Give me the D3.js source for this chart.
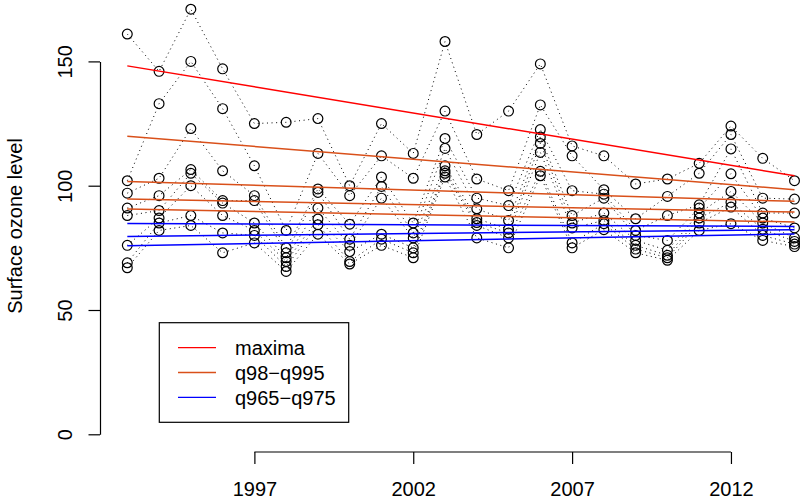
<!DOCTYPE html>
<html>
<head>
<meta charset="utf-8">
<title>Surface ozone level</title>
<script src="https://cdnjs.cloudflare.com/ajax/libs/d3/7.8.5/d3.min.js"></script>
<style>
  body { margin:0; background:#fff; }
  svg { display:block; font-family:"Liberation Sans", Arial, Helvetica, sans-serif; }
</style>
</head>
<body>
<svg width="800" height="504"></svg>
<script>
// one value per year for each quantile series
var years = [1993,1994,1995,1996,1997,1998,1999,2000,2001,2002,2003,
             2004,2005,2006,2007,2008,2009,2010,2011,2012,2013,2014];

var maxima = [161,146,171,147,125,125.5,127,100,125,113,158,120.6,130,149,116,112,100.7,102.7,109,124,111,102];
var q995   = [102,133,150,131,108,82,113,96,112,103,130,102.7,98,132.5,112,98.4,86.7,95.7,105,120.6,95,94.6];
var q99    = [97,103,123,106,96,75,98.7,84.5,103.5,85,119,95,92,122.6,98,96.6,82,88,92.3,114.8,89,89];
var q985   = [91,96,106.5,94,94,73,97.3,78.5,99.7,81,115,90.7,86,119.6,88,95,80,78,91,104.8,87,83];
var q98    = [88,90,105,93,85,71,91,76,95,79,108,86.7,82.5,117,85,89,78,74,89,97.7,85,79];
var q975   = [76,87,100,88,82,69.5,86.6,73.5,80.5,75,106,85.2,81,113.4,83,86,76,72,87,93.3,82.5,77.6];
var q97    = [69,85,88,81,80,67.5,84.3,69.5,78.5,73,105,84,79,105.8,77,84.7,74.5,71,85,91.4,80,76.5];
var q965   = [67,82,84,73,77,65.5,80.5,68.5,76,71,103.5,79,75,104,75,82.3,73,70,82,84.7,78,75.5];

var series = [maxima, q995, q99, q985, q98, q975, q97, q965];
var seriesGroup = [0, 1, 1, 1, 1, 2, 2, 2];

// fitted trend value at first and last year, same order as series
var trendStart = [148.2, 119.9, 101.7, 94.6, 90.6, 84.8, 79.6, 75.8];
var trendEnd   = [104.0, 98.4, 93.7, 89.4, 85.4, 83.6, 82.3, 80.6];

var legendLabels = ["maxima", "q98\u2212q995", "q965\u2212q975"];
var groupColors = ["#ff0000", "#d9501a", "#0000ff"];

var xTicks = [1997, 2002, 2007, 2012];
var yTicks = [0, 50, 100, 150];

var svg = d3.select("svg");

var x = d3.scaleLinear().domain([1993, 2014]).range([127.3, 794.5]);
var y = d3.scaleLinear().domain([0, 150]).range([434.3, 61.4]);

// dotted joins
var line = d3.line()
  .x(function(d, i) { return x(years[i]); })
  .y(function(d) { return y(d); });

svg.append("g").selectAll("path")
  .data(series)
  .enter().append("path")
  .attr("d", line)
  .attr("fill", "none")
  .attr("stroke", "#000")
  .attr("stroke-width", 1)
  .attr("stroke-dasharray", "1,3.6");

// points
series.forEach(function(s) {
  svg.append("g").selectAll("circle")
    .data(s)
    .enter().append("circle")
    .attr("cx", function(d, i) { return x(years[i]); })
    .attr("cy", function(d) { return y(d); })
    .attr("r", 4.9)
    .attr("fill", "none")
    .attr("stroke", "#000")
    .attr("stroke-width", 1.2);
});

// trend lines
svg.append("g").selectAll("line")
  .data(series)
  .enter().append("line")
  .attr("x1", x(years[0]))
  .attr("x2", x(years[years.length - 1]))
  .attr("y1", function(d, i) { return y(trendStart[i]); })
  .attr("y2", function(d, i) { return y(trendEnd[i]); })
  .attr("stroke", function(d, i) { return groupColors[seriesGroup[i]]; })
  .attr("stroke-width", 1.5);

// y axis
var gy = svg.append("g")
  .attr("transform", "translate(100,0)")
  .call(d3.axisLeft(y).tickValues(yTicks).tickSize(11.5).tickSizeOuter(0).tickFormat(d3.format("d")));
gy.attr("font-size", 20).attr("font-family", null);
gy.select(".domain").attr("stroke-width", 1.2);
gy.selectAll(".tick line").attr("stroke-width", 1.2);
gy.selectAll(".tick text")
  .attr("x", 0).attr("y", -28).attr("dy", 0)
  .attr("transform", "rotate(-90)")
  .attr("text-anchor", "middle")
  .attr("fill", "#000");

// x axis
var gx = svg.append("g")
  .attr("transform", "translate(0,452)")
  .call(d3.axisBottom(x).tickValues(xTicks).tickSize(12).tickSizeOuter(0).tickFormat(d3.format("d")));
gx.attr("font-size", 20).attr("font-family", null);
gx.select(".domain").remove();
gx.append("line")
  .attr("x1", x(xTicks[0])).attr("x2", x(xTicks[xTicks.length - 1]))
  .attr("stroke", "#000").attr("stroke-width", 1.2);
gx.selectAll(".tick line").attr("stroke-width", 1.2);
gx.selectAll(".tick text").attr("y", 44).attr("dy", 0).attr("fill", "#000");

// axis title
svg.append("text")
  .attr("transform", "translate(22,226) rotate(-90)")
  .attr("text-anchor", "middle")
  .attr("font-size", 20)
  .text("Surface ozone level");

// legend
var lg = svg.append("g").attr("transform", "translate(159.3,322.7)");
lg.append("rect")
  .attr("width", 189.4).attr("height", 99.6)
  .attr("fill", "#fff").attr("stroke", "#000").attr("stroke-width", 1.2);
var items = lg.selectAll(".item")
  .data(legendLabels)
  .enter().append("g")
  .attr("transform", function(d, i) { return "translate(0," + (25 + i * 24.8) + ")"; });
items.append("line")
  .attr("x1", 18.7).attr("x2", 56.7)
  .attr("stroke", function(d, i) { return groupColors[i]; })
  .attr("stroke-width", 1.3);
items.append("text")
  .attr("x", 75.7).attr("y", 7.3)
  .attr("font-size", 20)
  .text(function(d) { return d; });
</script>
</body>
</html>
